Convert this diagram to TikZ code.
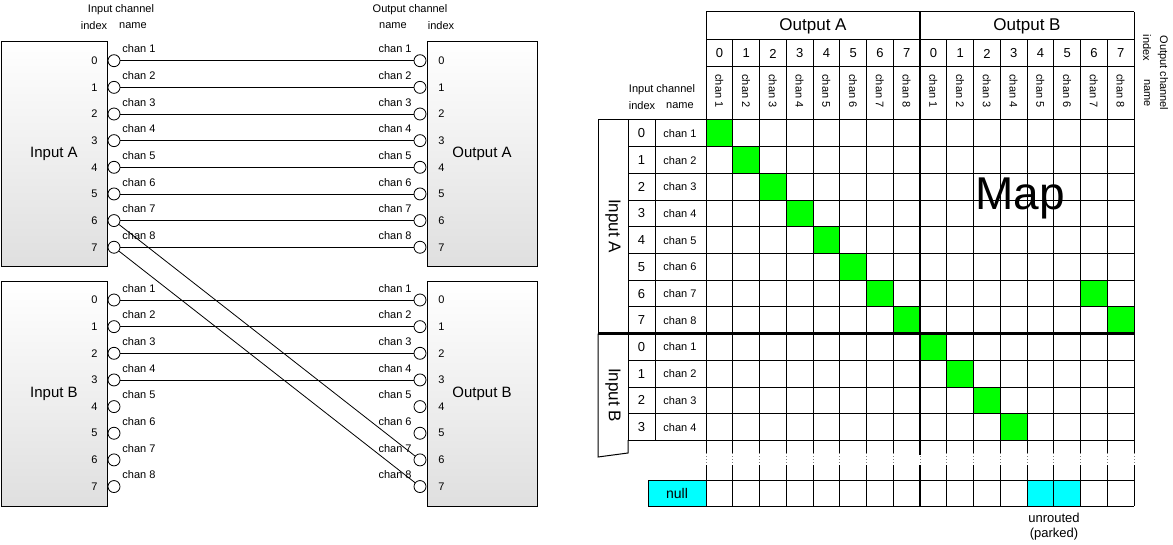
\documentclass[tikz,border=0pt]{standalone}
\usepackage{fontspec}
\setmainfont{Liberation Sans}
\usetikzlibrary{positioning}
\definecolor{mapgreen}{RGB}{0,255,0}
\definecolor{mapcyan}{RGB}{0,255,255}
\begin{document}
\begin{tikzpicture}[x=0.5pt, y=-0.5pt,
  dev box/.style={draw, top color=white, bottom color=gray!25, minimum height=112.5pt,
    inner sep=0pt, font=\fontsize{7.5}{9}\selectfont},
  port/.style={circle, draw, fill=white, minimum size=6pt, inner sep=0pt},
  small/.style={font=\fontsize{5.5}{6.5}\selectfont, inner sep=0.5pt},
  head/.style={font=\fontsize{8.5}{10}\selectfont, inner sep=0pt},
  grid line/.style={line width=0.5pt}]
\useasboundingbox (0,0) rectangle (1173,545);

% left: routing
\node[dev box, minimum width=53pt] (inA) at (54,153.5) {Input A};
\node[dev box, minimum width=55pt] (outA) at (482,153.5) {Output A};
\node[dev box, minimum width=53pt] (inB) at (54,394) {Input B};
\node[dev box, minimum width=55pt] (outB) at (482,394) {Output B};

\node[small] at (121,10) {Input channel};
\node[small] at (94,26) {index};
\node[small] at (133,26) {name};
\node[small] at (410,10) {Output channel};
\node[small] at (393,26) {name};
\node[small] at (441,26) {index};

\foreach \i [evaluate=\i as \n using int(\i+1)] in {0,...,7} {
  \node[port] (ia\i) at (114,60.7+26.65*\i) {};
  \node[port] (oa\i) at (420,60.7+26.65*\i) {};
  \node[port] (ib\i) at (114,300+26.65*\i) {};
  \node[port] (ob\i) at (420,300+26.65*\i) {};
  \node[small, anchor=east] at (99,60.7+26.65*\i) {\i};
  \node[small, anchor=west] at (437,60.7+26.65*\i) {\i};
  \node[small, anchor=east] at (99,300+26.65*\i) {\i};
  \node[small, anchor=west] at (437,300+26.65*\i) {\i};
  \node[small, anchor=base west] at (121,53+26.65*\i) {chan \n};
  \node[small, anchor=base east] at (413,53+26.65*\i) {chan \n};
  \node[small, anchor=base west] at (121,292.3+26.65*\i) {chan \n};
  \node[small, anchor=base east] at (413,292.3+26.65*\i) {chan \n};
}
\foreach \i in {0,...,7} \draw (ia\i) -- (oa\i);
\foreach \i in {0,...,3} \draw (ib\i) -- (ob\i);
\draw (ia6) -- (ob6);
\draw (ia7) -- (ob7);

% right: map
\foreach \r/\c in {0/0,1/1,2/2,3/3,4/4,5/5,6/6,7/7,6/14,7/15,8/8,9/9,10/10,11/11}
  \fill[mapgreen] (706+26.75*\c,120+26.7*\r) rectangle ++(26.75,26.7);
\fill[mapcyan] (648,480) rectangle (706,506);
\fill[mapcyan] (706+26.75*12,480) rectangle ++(53.5,26);

\draw[grid line] (706,12) -- (1134,12);
\foreach \y in {40,67} \draw[grid line] (706,\y) -- (1134,\y);
\foreach \r in {0,...,12} \draw[grid line] (628,120+26.7*\r) -- (1134,120+26.7*\r);
\foreach \y in {480,506} \draw[grid line] (648,\y) -- (1134,\y);
\foreach \j in {0,...,16} {
  \draw[grid line] (706+26.75*\j,40) -- (706+26.75*\j,453);
  \draw[grid line, gray, densely dotted] (706+26.75*\j,453) -- (706+26.75*\j,465);
  \draw[grid line] (706+26.75*\j,465) -- (706+26.75*\j,506);
}
\draw[grid line] (706,12) -- (706,40);
\draw[grid line] (1134,12) -- (1134,40);
\draw[grid line] (648,480) -- (648,506);
\draw[line width=1.3pt] (920,12) -- (920,455);
\draw[line width=1.3pt] (920,465) -- (920,506);
\draw[grid line] (628,120) -- (628,440);
\draw[grid line] (655,120) -- (655,440);
\draw[grid line] (598,120) -- (628,120);
\draw[grid line] (598,120) -- (598,333.6);
\draw[grid line] (598,333.6) -- (598,457) -- (628,453) -- (628,440);
\draw[line width=1.3pt] (598,333.6) -- (1134,333.6);

\node[head] (hA) at (813,26) {Output A};
\node[head] (hB) at (1027,26) {Output B};
\foreach \j [evaluate=\j as \k using {int(mod(\j,8))}, evaluate=\j as \n using {int(mod(\j,8)+1)}] in {0,...,15} {
  \node[small, font=\fontsize{6.5}{7}\selectfont] at (719.4+26.75*\j,53.5) {\k};
  \node[small, rotate=-90, anchor=west] at (719.4+26.75*\j,73) {chan \n};
}
\foreach \r [evaluate=\r as \n using int(\r+1)] in {0,...,7} {
  \node[small, font=\fontsize{6.5}{7}\selectfont] at (641.5,133.4+26.7*\r) {\r};
  \node[small] at (680,133.4+26.7*\r) {chan \n};
}
\foreach \r [evaluate=\r as \n using int(\r+1)] in {0,...,3} {
  \node[small, font=\fontsize{6.5}{7}\selectfont] at (641.5,347+26.7*\r) {\r};
  \node[small] at (680,347+26.7*\r) {chan \n};
}
\node[small] at (662,90) {Input channel};
\node[small] at (642,106) {index};
\node[small] at (680,106) {name};
\node[head, rotate=-90] (lA) at (613,226) {Input A};
\node[head, rotate=-90] (lB) at (613,395) {Input B};
\node[small, rotate=-90] at (1163,73) {Output channel};
\node[small, rotate=-90] at (1147,48) {index};
\node[small, rotate=-90] at (1147,93) {name};
\node[font=\fontsize{23}{26}\selectfont] (map) at (1020,198) {Map};
\node[small, font=\fontsize{7}{8}\selectfont] at (677,493) {null};
\node[small, font=\fontsize{6.5}{7.5}\selectfont, align=center] at (1054,527) {unrouted\\(parked)};
\end{tikzpicture}
\end{document}
